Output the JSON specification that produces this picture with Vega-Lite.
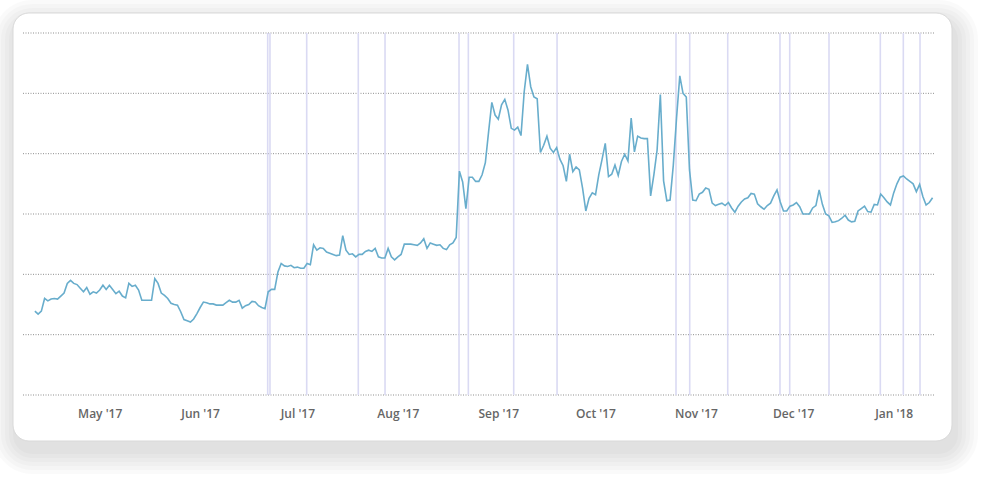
{
  "$schema": "https://vega.github.io/schema/vega-lite/v6.json",
  "width": 912,
  "height": 362,
  "autosize": {"type": "none"},
  "padding": {"left": 23, "top": 33, "right": 62, "bottom": 90},
  "background": "white",
  "config": {
    "view": {"fill": null, "stroke": null},
    "font": "Open Sans",
    "axisX": {"domain": false, "ticks": false, "tickSize": 0, "grid": false, "labelPadding": 13, "labelFont": "Open Sans", "labelFontSize": 12, "labelFontWeight": 600, "labelColor": "#666666", "labelOverlap": false, "labelFlush": false, "zindex": 2}
  },
  "data": {"values": [{}]},
  "datasets": {
    "grid": [{"v": 0}, {"v": 10}, {"v": 20}, {"v": 30}, {"v": 40}, {"v": 50}, {"v": 60}],
    "events": [
      {"t": "2017-06-21T20:00:00Z"}, {"t": "2017-06-22T13:00:00Z"}, {"t": "2017-07-03T21:00:00Z"},
      {"t": "2017-07-19T19:00:00Z"}, {"t": "2017-07-28T01:00:00Z"}, {"t": "2017-08-19T21:00:00Z"},
      {"t": "2017-08-22T18:00:00Z"}, {"t": "2017-09-05T18:00:00Z"}, {"t": "2017-09-19T03:00:00Z"},
      {"t": "2017-10-25T20:00:00Z"}, {"t": "2017-10-30T01:30:00Z"}, {"t": "2017-11-10T19:00:00Z"},
      {"t": "2017-11-26T22:00:00Z"}, {"t": "2017-11-29T22:00:00Z"}, {"t": "2017-12-12T01:00:00Z"},
      {"t": "2017-12-27T21:00:00Z"}, {"t": "2018-01-03T23:20:00Z"}, {"t": "2018-01-09T03:00:00Z"}
    ],
    "series": [
      {"d": "2017-04-11", "v": 13.9}, {"d": "2017-04-12", "v": 13.4}, {"d": "2017-04-13", "v": 13.9},
      {"d": "2017-04-14", "v": 16.0}, {"d": "2017-04-15", "v": 15.6}, {"d": "2017-04-16", "v": 15.9},
      {"d": "2017-04-17", "v": 16.0}, {"d": "2017-04-18", "v": 15.9}, {"d": "2017-04-19", "v": 16.4},
      {"d": "2017-04-20", "v": 16.9}, {"d": "2017-04-21", "v": 18.5}, {"d": "2017-04-22", "v": 19.0},
      {"d": "2017-04-23", "v": 18.5}, {"d": "2017-04-24", "v": 18.3}, {"d": "2017-04-25", "v": 17.7},
      {"d": "2017-04-26", "v": 17.1}, {"d": "2017-04-27", "v": 17.8}, {"d": "2017-04-28", "v": 16.7},
      {"d": "2017-04-29", "v": 17.1}, {"d": "2017-04-30", "v": 16.9}, {"d": "2017-05-01", "v": 17.4},
      {"d": "2017-05-02", "v": 18.2}, {"d": "2017-05-03", "v": 17.5}, {"d": "2017-05-04", "v": 18.2},
      {"d": "2017-05-05", "v": 17.5}, {"d": "2017-05-06", "v": 16.8}, {"d": "2017-05-07", "v": 17.2},
      {"d": "2017-05-08", "v": 16.4}, {"d": "2017-05-09", "v": 16.1}, {"d": "2017-05-10", "v": 18.5},
      {"d": "2017-05-11", "v": 18.0}, {"d": "2017-05-12", "v": 18.2}, {"d": "2017-05-13", "v": 17.4},
      {"d": "2017-05-14", "v": 15.7}, {"d": "2017-05-15", "v": 15.7}, {"d": "2017-05-16", "v": 15.7},
      {"d": "2017-05-17", "v": 15.7}, {"d": "2017-05-18", "v": 19.3}, {"d": "2017-05-19", "v": 18.5},
      {"d": "2017-05-20", "v": 16.9}, {"d": "2017-05-21", "v": 16.5}, {"d": "2017-05-22", "v": 16.0},
      {"d": "2017-05-23", "v": 15.2}, {"d": "2017-05-24", "v": 15.0}, {"d": "2017-05-25", "v": 14.9},
      {"d": "2017-05-26", "v": 13.8}, {"d": "2017-05-27", "v": 12.5}, {"d": "2017-05-28", "v": 12.3},
      {"d": "2017-05-29", "v": 12.1}, {"d": "2017-05-30", "v": 12.6}, {"d": "2017-05-31", "v": 13.5},
      {"d": "2017-06-01", "v": 14.5}, {"d": "2017-06-02", "v": 15.4}, {"d": "2017-06-03", "v": 15.3},
      {"d": "2017-06-04", "v": 15.1}, {"d": "2017-06-05", "v": 15.1}, {"d": "2017-06-06", "v": 14.9},
      {"d": "2017-06-07", "v": 14.9}, {"d": "2017-06-08", "v": 14.9}, {"d": "2017-06-09", "v": 15.3},
      {"d": "2017-06-10", "v": 15.7}, {"d": "2017-06-11", "v": 15.4}, {"d": "2017-06-12", "v": 15.4},
      {"d": "2017-06-13", "v": 15.7}, {"d": "2017-06-14", "v": 14.4}, {"d": "2017-06-15", "v": 14.8},
      {"d": "2017-06-16", "v": 15.0}, {"d": "2017-06-17", "v": 15.5}, {"d": "2017-06-18", "v": 15.4},
      {"d": "2017-06-19", "v": 14.8}, {"d": "2017-06-20", "v": 14.5}, {"d": "2017-06-21", "v": 14.3},
      {"d": "2017-06-22", "v": 17.1}, {"d": "2017-06-23", "v": 17.5}, {"d": "2017-06-24", "v": 17.5},
      {"d": "2017-06-25", "v": 20.4}, {"d": "2017-06-26", "v": 21.8}, {"d": "2017-06-27", "v": 21.4},
      {"d": "2017-06-28", "v": 21.3}, {"d": "2017-06-29", "v": 21.5}, {"d": "2017-06-30", "v": 21.1},
      {"d": "2017-07-01", "v": 21.2}, {"d": "2017-07-02", "v": 21.0}, {"d": "2017-07-03", "v": 21.0},
      {"d": "2017-07-04", "v": 21.8}, {"d": "2017-07-05", "v": 21.6}, {"d": "2017-07-06", "v": 24.9},
      {"d": "2017-07-07", "v": 24.0}, {"d": "2017-07-08", "v": 24.4}, {"d": "2017-07-09", "v": 24.3},
      {"d": "2017-07-10", "v": 23.7}, {"d": "2017-07-11", "v": 23.5}, {"d": "2017-07-12", "v": 23.3},
      {"d": "2017-07-13", "v": 23.1}, {"d": "2017-07-14", "v": 23.2}, {"d": "2017-07-15", "v": 26.4},
      {"d": "2017-07-16", "v": 24.0}, {"d": "2017-07-17", "v": 23.3}, {"d": "2017-07-18", "v": 23.4},
      {"d": "2017-07-19", "v": 22.9}, {"d": "2017-07-20", "v": 23.3}, {"d": "2017-07-21", "v": 23.3},
      {"d": "2017-07-22", "v": 23.8}, {"d": "2017-07-23", "v": 24.0}, {"d": "2017-07-24", "v": 23.8},
      {"d": "2017-07-25", "v": 24.3}, {"d": "2017-07-26", "v": 22.9}, {"d": "2017-07-27", "v": 22.7},
      {"d": "2017-07-28", "v": 22.7}, {"d": "2017-07-29", "v": 24.3}, {"d": "2017-07-30", "v": 22.9},
      {"d": "2017-07-31", "v": 22.4}, {"d": "2017-08-01", "v": 22.9}, {"d": "2017-08-02", "v": 23.3},
      {"d": "2017-08-03", "v": 25.0}, {"d": "2017-08-04", "v": 25.0}, {"d": "2017-08-05", "v": 25.0},
      {"d": "2017-08-06", "v": 24.9}, {"d": "2017-08-07", "v": 24.8}, {"d": "2017-08-08", "v": 25.2},
      {"d": "2017-08-09", "v": 25.9}, {"d": "2017-08-10", "v": 24.3}, {"d": "2017-08-11", "v": 25.2},
      {"d": "2017-08-12", "v": 25.0}, {"d": "2017-08-13", "v": 24.8}, {"d": "2017-08-14", "v": 24.9},
      {"d": "2017-08-15", "v": 24.3}, {"d": "2017-08-16", "v": 24.1}, {"d": "2017-08-17", "v": 24.9},
      {"d": "2017-08-18", "v": 25.2}, {"d": "2017-08-19", "v": 26.1}, {"d": "2017-08-20", "v": 37.1},
      {"d": "2017-08-21", "v": 35.3}, {"d": "2017-08-22", "v": 30.9}, {"d": "2017-08-23", "v": 36.1},
      {"d": "2017-08-24", "v": 36.1}, {"d": "2017-08-25", "v": 35.4}, {"d": "2017-08-26", "v": 35.4},
      {"d": "2017-08-27", "v": 36.5}, {"d": "2017-08-28", "v": 38.5}, {"d": "2017-08-29", "v": 43.6},
      {"d": "2017-08-30", "v": 48.5}, {"d": "2017-08-31", "v": 46.4}, {"d": "2017-09-01", "v": 45.7},
      {"d": "2017-09-02", "v": 48.1}, {"d": "2017-09-03", "v": 49.0}, {"d": "2017-09-04", "v": 47.2},
      {"d": "2017-09-05", "v": 44.2}, {"d": "2017-09-06", "v": 43.9}, {"d": "2017-09-07", "v": 44.4},
      {"d": "2017-09-08", "v": 43.0}, {"d": "2017-09-09", "v": 50.3}, {"d": "2017-09-10", "v": 54.8},
      {"d": "2017-09-11", "v": 51.1}, {"d": "2017-09-12", "v": 49.4}, {"d": "2017-09-13", "v": 49.1},
      {"d": "2017-09-14", "v": 40.2}, {"d": "2017-09-15", "v": 41.4}, {"d": "2017-09-16", "v": 42.9},
      {"d": "2017-09-17", "v": 40.9}, {"d": "2017-09-18", "v": 40.2}, {"d": "2017-09-19", "v": 41.0},
      {"d": "2017-09-20", "v": 39.1}, {"d": "2017-09-21", "v": 38.0}, {"d": "2017-09-22", "v": 35.4},
      {"d": "2017-09-23", "v": 39.9}, {"d": "2017-09-24", "v": 37.0}, {"d": "2017-09-25", "v": 37.8},
      {"d": "2017-09-26", "v": 37.3}, {"d": "2017-09-27", "v": 34.3}, {"d": "2017-09-28", "v": 30.5},
      {"d": "2017-09-29", "v": 32.6}, {"d": "2017-09-30", "v": 33.5}, {"d": "2017-10-01", "v": 33.2},
      {"d": "2017-10-02", "v": 36.5}, {"d": "2017-10-03", "v": 39.0}, {"d": "2017-10-04", "v": 41.7},
      {"d": "2017-10-05", "v": 36.2}, {"d": "2017-10-06", "v": 36.6}, {"d": "2017-10-07", "v": 38.1},
      {"d": "2017-10-08", "v": 36.4}, {"d": "2017-10-09", "v": 38.7}, {"d": "2017-10-10", "v": 39.9},
      {"d": "2017-10-11", "v": 38.8}, {"d": "2017-10-12", "v": 45.9}, {"d": "2017-10-13", "v": 40.3},
      {"d": "2017-10-14", "v": 42.9}, {"d": "2017-10-15", "v": 42.6}, {"d": "2017-10-16", "v": 42.5},
      {"d": "2017-10-17", "v": 42.5}, {"d": "2017-10-18", "v": 33.0}, {"d": "2017-10-19", "v": 36.5},
      {"d": "2017-10-20", "v": 40.6}, {"d": "2017-10-21", "v": 49.8}, {"d": "2017-10-22", "v": 35.5},
      {"d": "2017-10-23", "v": 32.2}, {"d": "2017-10-24", "v": 32.3}, {"d": "2017-10-25", "v": 38.1},
      {"d": "2017-10-26", "v": 45.9}, {"d": "2017-10-27", "v": 52.9}, {"d": "2017-10-28", "v": 50.0},
      {"d": "2017-10-29", "v": 49.4}, {"d": "2017-10-30", "v": 37.3}, {"d": "2017-10-31", "v": 32.3},
      {"d": "2017-11-01", "v": 32.2}, {"d": "2017-11-02", "v": 33.3}, {"d": "2017-11-03", "v": 33.6},
      {"d": "2017-11-04", "v": 34.3}, {"d": "2017-11-05", "v": 34.1}, {"d": "2017-11-06", "v": 31.8},
      {"d": "2017-11-07", "v": 31.4}, {"d": "2017-11-08", "v": 31.6}, {"d": "2017-11-09", "v": 31.8},
      {"d": "2017-11-10", "v": 31.4}, {"d": "2017-11-11", "v": 31.9}, {"d": "2017-11-12", "v": 31.0},
      {"d": "2017-11-13", "v": 30.3}, {"d": "2017-11-14", "v": 31.3}, {"d": "2017-11-15", "v": 32.0},
      {"d": "2017-11-16", "v": 32.5}, {"d": "2017-11-17", "v": 32.7}, {"d": "2017-11-18", "v": 33.4},
      {"d": "2017-11-19", "v": 33.3}, {"d": "2017-11-20", "v": 31.7}, {"d": "2017-11-21", "v": 31.2},
      {"d": "2017-11-22", "v": 30.8}, {"d": "2017-11-23", "v": 31.4}, {"d": "2017-11-24", "v": 31.8},
      {"d": "2017-11-25", "v": 33.0}, {"d": "2017-11-26", "v": 34.0}, {"d": "2017-11-27", "v": 32.0},
      {"d": "2017-11-28", "v": 30.5}, {"d": "2017-11-29", "v": 30.5}, {"d": "2017-11-30", "v": 31.3},
      {"d": "2017-12-01", "v": 31.5}, {"d": "2017-12-02", "v": 31.9}, {"d": "2017-12-03", "v": 31.2},
      {"d": "2017-12-04", "v": 30.0}, {"d": "2017-12-05", "v": 30.0}, {"d": "2017-12-06", "v": 30.0},
      {"d": "2017-12-07", "v": 31.0}, {"d": "2017-12-08", "v": 31.4}, {"d": "2017-12-09", "v": 34.0},
      {"d": "2017-12-10", "v": 31.6}, {"d": "2017-12-11", "v": 30.0}, {"d": "2017-12-12", "v": 29.7},
      {"d": "2017-12-13", "v": 28.6}, {"d": "2017-12-14", "v": 28.7}, {"d": "2017-12-15", "v": 28.9},
      {"d": "2017-12-16", "v": 29.3}, {"d": "2017-12-17", "v": 29.8}, {"d": "2017-12-18", "v": 29.0},
      {"d": "2017-12-19", "v": 28.7}, {"d": "2017-12-20", "v": 28.8}, {"d": "2017-12-21", "v": 30.5},
      {"d": "2017-12-22", "v": 30.9}, {"d": "2017-12-23", "v": 31.3}, {"d": "2017-12-24", "v": 30.4},
      {"d": "2017-12-25", "v": 30.3}, {"d": "2017-12-26", "v": 31.6}, {"d": "2017-12-27", "v": 31.5},
      {"d": "2017-12-28", "v": 33.3}, {"d": "2017-12-29", "v": 32.7}, {"d": "2017-12-30", "v": 32.0},
      {"d": "2017-12-31", "v": 31.5}, {"d": "2018-01-01", "v": 33.5}, {"d": "2018-01-02", "v": 35.0},
      {"d": "2018-01-03", "v": 36.1}, {"d": "2018-01-04", "v": 36.3}, {"d": "2018-01-05", "v": 35.8},
      {"d": "2018-01-06", "v": 35.4}, {"d": "2018-01-07", "v": 35.0}, {"d": "2018-01-08", "v": 33.7},
      {"d": "2018-01-09", "v": 34.9}, {"d": "2018-01-10", "v": 32.9}, {"d": "2018-01-11", "v": 31.5},
      {"d": "2018-01-12", "v": 31.9}, {"d": "2018-01-13", "v": 32.7}
    ]
  },
  "layer": [
    {
      "mark": {"type": "rect", "fill": "black", "opacity": 0.018, "cornerRadius": 19},
      "encoding": {
        "x": {"datum": {"year": 2017, "month": 4, "date": 4, "hours": 5, "minutes": 56, "utc": true}, "type": "temporal", "title": null, "scale": {"type": "utc", "nice": false, "domain": [{"year": 2017, "month": 4, "date": 7, "hours": 8, "utc": true}, {"year": 2018, "month": 1, "date": 13, "hours": 18, "utc": true}]}},
        "x2": {"datum": {"year": 2018, "month": 1, "date": 20, "hours": 20, "minutes": 20, "utc": true}},
        "y": {"datum": 62.16, "type": "quantitative", "scale": {"domain": [0, 60], "nice": false, "zero": false}, "axis": null},
        "y2": {"datum": -9.78}
      }
    },
    {
      "mark": {"type": "rect", "fill": "black", "opacity": 0.018, "cornerRadius": 23},
      "encoding": {
        "x": {"datum": {"year": 2017, "month": 4, "date": 3, "hours": 0, "minutes": 20, "utc": true}, "type": "temporal", "title": null, "scale": {"type": "utc", "nice": false, "domain": [{"year": 2017, "month": 4, "date": 7, "hours": 8, "utc": true}, {"year": 2018, "month": 1, "date": 13, "hours": 18, "utc": true}]}},
        "x2": {"datum": {"year": 2018, "month": 1, "date": 22, "hours": 2, "minutes": 8, "utc": true}},
        "y": {"datum": 62.82, "type": "quantitative", "scale": {"domain": [0, 60], "nice": false, "zero": false}, "axis": null},
        "y2": {"datum": -10.44}
      }
    },
    {
      "mark": {"type": "rect", "fill": "black", "opacity": 0.018, "cornerRadius": 27},
      "encoding": {
        "x": {"datum": {"year": 2017, "month": 4, "date": 1, "hours": 18, "minutes": 41, "utc": true}, "type": "temporal", "title": null, "scale": {"type": "utc", "nice": false, "domain": [{"year": 2017, "month": 4, "date": 7, "hours": 8, "utc": true}, {"year": 2018, "month": 1, "date": 13, "hours": 18, "utc": true}]}},
        "x2": {"datum": {"year": 2018, "month": 1, "date": 23, "hours": 7, "minutes": 38, "utc": true}},
        "y": {"datum": 63.48, "type": "quantitative", "scale": {"domain": [0, 60], "nice": false, "zero": false}, "axis": null},
        "y2": {"datum": -11.11}
      }
    },
    {
      "mark": {"type": "rect", "fill": "black", "opacity": 0.018, "cornerRadius": 31},
      "encoding": {
        "x": {"datum": {"year": 2017, "month": 3, "date": 31, "hours": 13, "minutes": 4, "utc": true}, "type": "temporal", "title": null, "scale": {"type": "utc", "nice": false, "domain": [{"year": 2017, "month": 4, "date": 7, "hours": 8, "utc": true}, {"year": 2018, "month": 1, "date": 13, "hours": 18, "utc": true}]}},
        "x2": {"datum": {"year": 2018, "month": 1, "date": 24, "hours": 13, "minutes": 20, "utc": true}},
        "y": {"datum": 64.15, "type": "quantitative", "scale": {"domain": [0, 60], "nice": false, "zero": false}, "axis": null},
        "y2": {"datum": -11.77}
      }
    },
    {
      "mark": {"type": "rect", "fill": "black", "opacity": 0.018, "cornerRadius": 35},
      "encoding": {
        "x": {"datum": {"year": 2017, "month": 3, "date": 30, "hours": 7, "minutes": 27, "utc": true}, "type": "temporal", "title": null, "scale": {"type": "utc", "nice": false, "domain": [{"year": 2017, "month": 4, "date": 7, "hours": 8, "utc": true}, {"year": 2018, "month": 1, "date": 13, "hours": 18, "utc": true}]}},
        "x2": {"datum": {"year": 2018, "month": 1, "date": 25, "hours": 18, "minutes": 56, "utc": true}},
        "y": {"datum": 64.81, "type": "quantitative", "scale": {"domain": [0, 60], "nice": false, "zero": false}, "axis": null},
        "y2": {"datum": -12.43}
      }
    },
    {
      "mark": {"type": "rect", "fill": "black", "opacity": 0.018, "cornerRadius": 39},
      "encoding": {
        "x": {"datum": {"year": 2017, "month": 3, "date": 29, "hours": 1, "minutes": 50, "utc": true}, "type": "temporal", "title": null, "scale": {"type": "utc", "nice": false, "domain": [{"year": 2017, "month": 4, "date": 7, "hours": 8, "utc": true}, {"year": 2018, "month": 1, "date": 13, "hours": 18, "utc": true}]}},
        "x2": {"datum": {"year": 2018, "month": 1, "date": 27, "hours": 0, "minutes": 38, "utc": true}},
        "y": {"datum": 65.47, "type": "quantitative", "scale": {"domain": [0, 60], "nice": false, "zero": false}, "axis": null},
        "y2": {"datum": -13.09}
      }
    },
    {
      "mark": {"type": "rect", "fill": "white", "stroke": "#d9d9d9", "strokeWidth": 1, "cornerRadius": 16},
      "encoding": {
        "x": {"datum": {"year": 2017, "month": 4, "date": 4, "hours": 5, "minutes": 56, "utc": true}, "type": "temporal", "title": null, "scale": {"type": "utc", "nice": false, "domain": [{"year": 2017, "month": 4, "date": 7, "hours": 8, "utc": true}, {"year": 2018, "month": 1, "date": 13, "hours": 18, "utc": true}]}},
        "x2": {"datum": {"year": 2018, "month": 1, "date": 18, "hours": 23, "minutes": 54, "utc": true}},
        "y": {"datum": 63.315, "type": "quantitative", "scale": {"domain": [0, 60], "nice": false, "zero": false}, "axis": null},
        "y2": {"datum": -7.625}
      }
    },
    {
      "data": {"name": "grid"},
      "mark": {"type": "rule", "stroke": "#8f8f8f", "strokeWidth": 1, "strokeDash": [1, 1.5]},
      "encoding": {
        "y": {"field": "v", "type": "quantitative", "scale": {"domain": [0, 60], "nice": false, "zero": false}, "axis": null},
        "x": {"datum": {"year": 2017, "month": 4, "date": 7, "hours": 8, "utc": true}, "type": "temporal", "title": null, "scale": {"type": "utc", "nice": false, "domain": [{"year": 2017, "month": 4, "date": 7, "hours": 8, "utc": true}, {"year": 2018, "month": 1, "date": 13, "hours": 18, "utc": true}]}},
        "x2": {"datum": {"year": 2018, "month": 1, "date": 13, "hours": 18, "utc": true}}
      }
    },
    {
      "data": {"name": "events"},
      "mark": {"type": "rule", "stroke": "#dadaf3", "strokeWidth": 1.6},
      "encoding": {
        "x": {"field": "t", "type": "temporal", "title": null, "scale": {"type": "utc", "nice": false, "domain": [{"year": 2017, "month": 4, "date": 7, "hours": 8, "utc": true}, {"year": 2018, "month": 1, "date": 13, "hours": 18, "utc": true}]}},
        "y": {"datum": 0, "type": "quantitative", "scale": {"domain": [0, 60], "nice": false, "zero": false}, "axis": null},
        "y2": {"datum": 60}
      }
    },
    {
      "data": {"name": "series"},
      "mark": {"type": "line", "stroke": "#68adcc", "strokeWidth": 1.6, "interpolate": "linear"},
      "encoding": {
        "x": {"field": "d", "type": "temporal", "title": null,
              "scale": {"type": "utc", "nice": false, "domain": [{"year": 2017, "month": 4, "date": 7, "hours": 8, "utc": true}, {"year": 2018, "month": 1, "date": 13, "hours": 18, "utc": true}]},
              "axis": {
                "format": "%b '%y",
                "zindex": 2,
                "values": [1493596800000, 1496275200000, 1498867200000, 1501545600000, 1504224000000, 1506816000000, 1509494400000, 1512086400000, 1514764800000]
              }},
        "y": {"field": "v", "type": "quantitative", "scale": {"domain": [0, 60], "nice": false, "zero": false}, "axis": null}
      }
    }
  ]
}
